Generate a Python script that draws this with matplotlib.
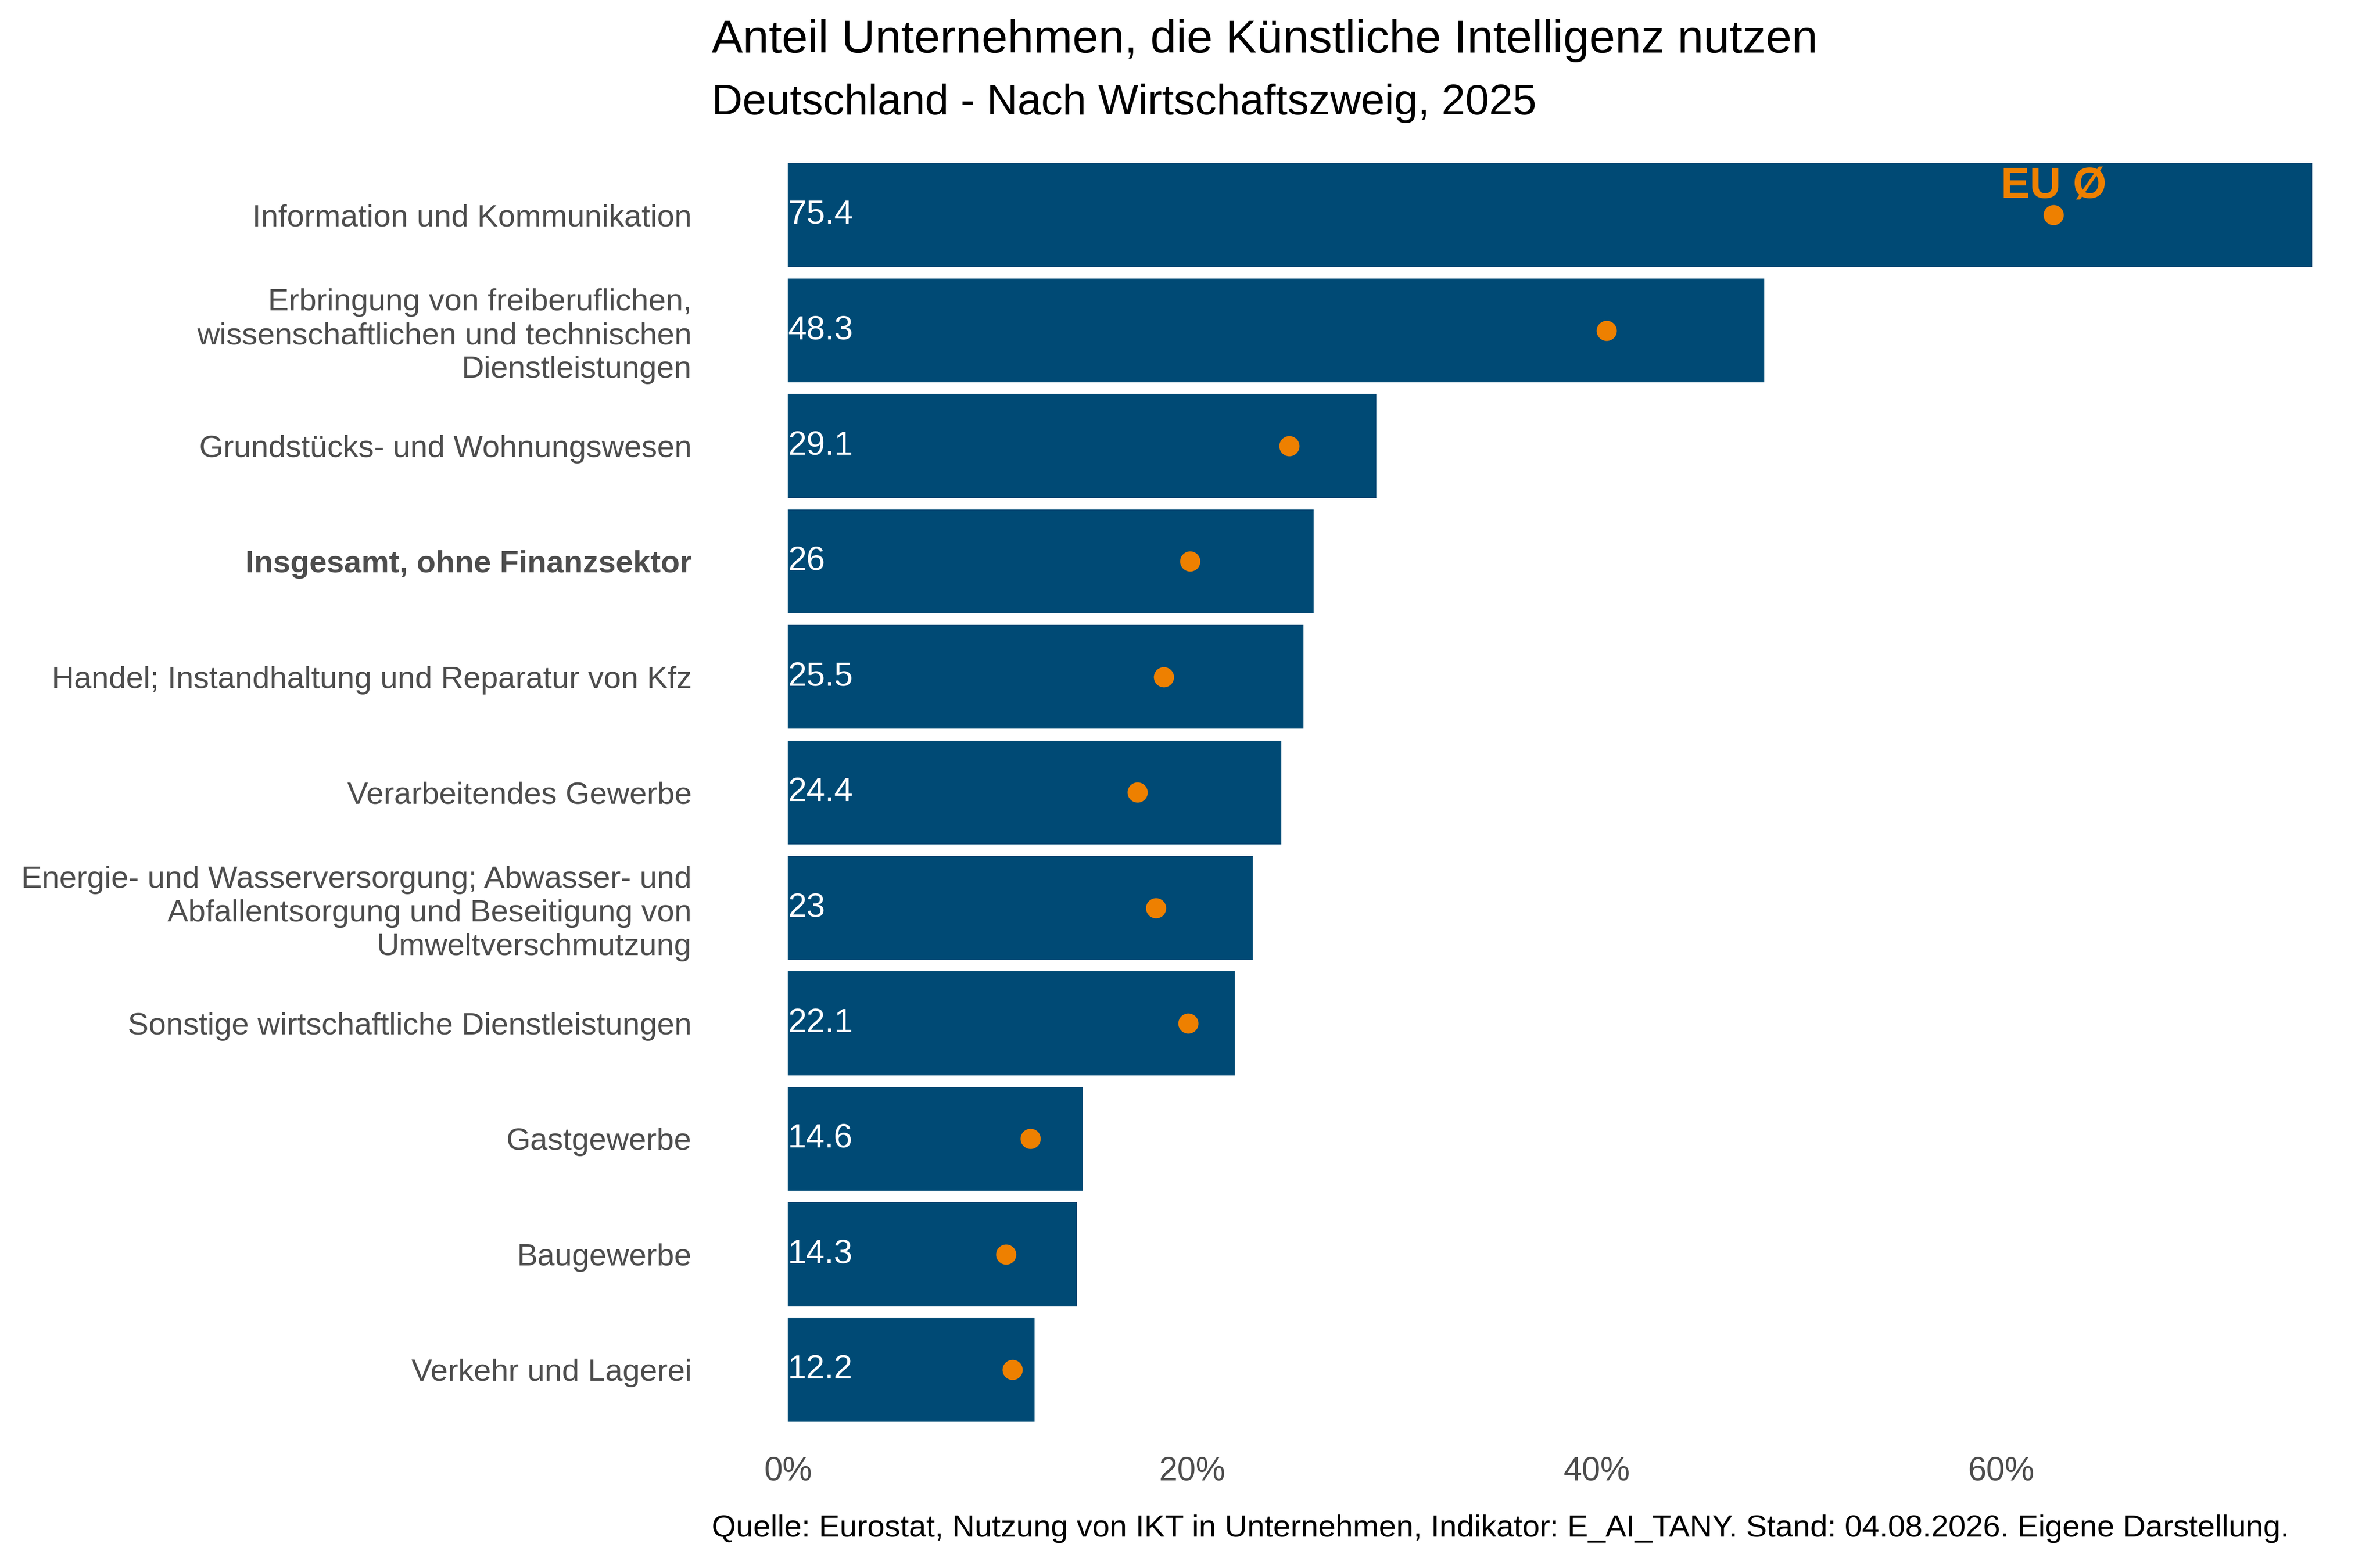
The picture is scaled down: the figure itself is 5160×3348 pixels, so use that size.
import matplotlib.pyplot as plt
from matplotlib.ticker import FuncFormatter

plt.rcParams['font.family'] = ['Liberation Sans', 'DejaVu Sans']

branchen = [
    'Information und Kommunikation',
    'Erbringung von freiberuflichen,\nwissenschaftlichen und technischen\nDienstleistungen',
    'Grundstücks- und Wohnungswesen',
    'Insgesamt, ohne Finanzsektor',
    'Handel; Instandhaltung und Reparatur von Kfz',
    'Verarbeitendes Gewerbe',
    'Energie- und Wasserversorgung; Abwasser- und\nAbfallentsorgung und Beseitigung von\nUmweltverschmutzung',
    'Sonstige wirtschaftliche Dienstleistungen',
    'Gastgewerbe',
    'Baugewerbe',
    'Verkehr und Lagerei',
]
anteil_de = [75.4, 48.3, 29.1, 26, 25.5, 24.4, 23, 22.1, 14.6, 14.3, 12.2]
anteil_eu = [62.6, 40.5, 24.8, 19.9, 18.6, 17.3, 18.2, 19.8, 12.0, 10.8, 11.1]
x_ticks = [0, 20, 40, 60]

BLAU = '#004A75'
ORANGE = '#EE8000'
GRAU = '#4D4D4D'

fig = plt.figure(figsize=(17.2, 11.16), dpi=300)
ax = fig.add_axes([0.331, 0.0717, 0.6406, 0.8287])

pos = list(range(len(branchen)))
ax.barh(pos, anteil_de, height=0.9, color=BLAU)
ax.plot(anteil_eu, pos, 'o', color=ORANGE, markersize=9.5, linestyle='none')

for p, v in zip(pos, anteil_de):
    ax.text(0, p, f'{v:g}', color='white', fontsize=17.4, ha='left', va='center')

ax.annotate('EU Ø', xy=(anteil_eu[0], 0), xytext=(0, 15), textcoords='offset points',
            ha='center', va='center', color=ORANGE, fontsize=22.5, fontweight='bold')

ax.set_xlim(0, max(anteil_de))
ax.set_ylim(10.55, -0.53)
ax.set_xticks(x_ticks)
ax.xaxis.set_major_formatter(FuncFormatter(lambda v, _: f'{v:.0f}%'))
ax.set_yticks(pos)
ax.set_yticklabels(branchen, linespacing=1.23)
ax.tick_params(axis='both', length=0, labelcolor=GRAU, labelsize=16.2)
ax.tick_params(axis='y', pad=50)
ax.tick_params(axis='x', pad=12, labelsize=17.3)
ax.get_yticklabels()[3].set_fontweight('bold')
for s in ax.spines.values():
    s.set_visible(False)

fig.text(0.299, 0.966, 'Anteil Unternehmen, die Künstliche Intelligenz nutzen',
         fontsize=24.3, va='baseline', ha='left')
fig.text(0.299, 0.926, 'Deutschland - Nach Wirtschaftszweig, 2025',
         fontsize=22.2, va='baseline', ha='left')
fig.text(0.299, 0.010, 'Quelle: Eurostat, Nutzung von IKT in Unternehmen, Indikator: E_AI_TANY. '
         'Stand: 04.08.2026. Eigene Darstellung.', fontsize=16.2, va='center', ha='left')

fig.savefig('out.png', dpi=300)
